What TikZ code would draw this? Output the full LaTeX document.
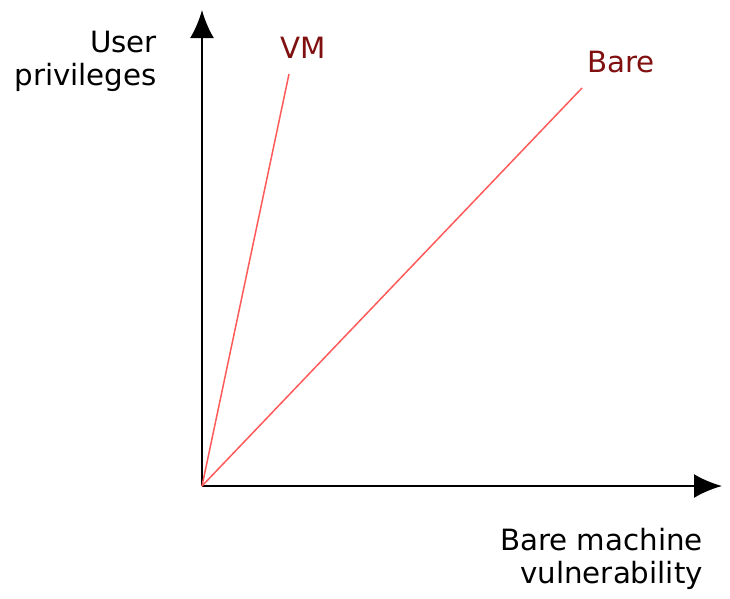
\documentclass[tikz,border=0pt]{standalone}
\usepackage{fontspec}
\setmainfont{DejaVu Sans}
\usetikzlibrary{arrows.meta, positioning}
\definecolor{labelred}{RGB}{128,16,16}
\definecolor{linered}{RGB}{255,90,90}
\tikzset{
    axis/.style={line width=2.5pt, -{Latex[length=28pt, width=24pt]}},
    curve/.style={linered, line width=1.5pt},
    lbl/.style={inner sep=0pt, font=\fontsize{29.3}{32.5}\selectfont, align=right},
}

\begin{document}
\begin{tikzpicture}[x=1pt, y=-1pt]
        \useasboundingbox (0,0) rectangle (730,598);
        \coordinate (o) at (202,486);
        \coordinate (ytop) at (202,10);
        \coordinate (xend) at (722,486);
        \coordinate (vmend) at (289,74);
        \coordinate (bareend) at (582,88);
        \node (ylab) [lbl, anchor=base east] at (157,85) {User\\privileges};
        \node (xlab) [lbl, anchor=base east] at (703,583) {Bare machine\\vulnerability};
        \node (vm) [lbl, labelred, anchor=base west] at (280,58) {VM};
        \node (bare) [lbl, labelred, anchor=base west] at (587,72) {Bare};
        \draw [axis] (o) -- (ytop);
        \draw [axis] (o) -- (xend);
        \draw [curve] (o) -- (vmend);
        \draw [curve] (o) -- (bareend);
    \end{tikzpicture}
\end{document}
